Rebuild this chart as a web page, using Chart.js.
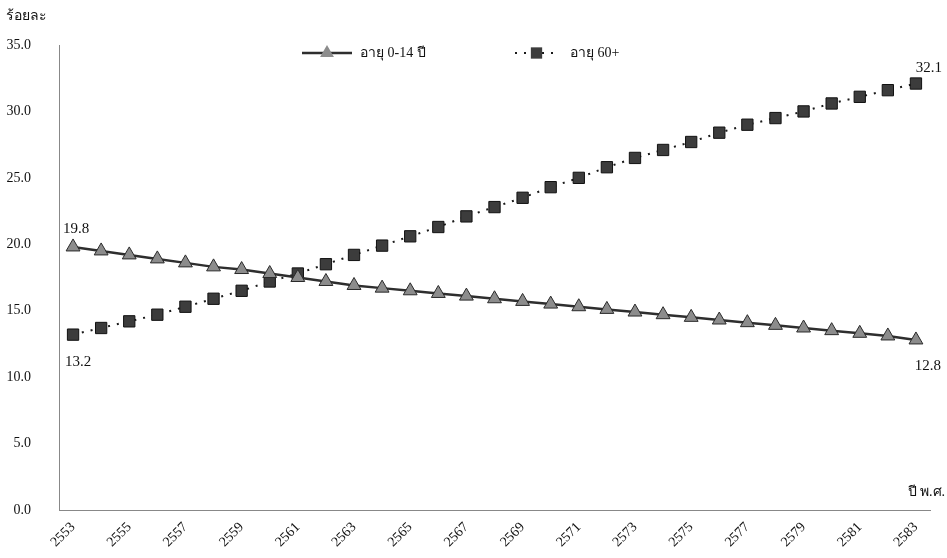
<!DOCTYPE html>
<html>
<head>
<meta charset="utf-8">
<script src="https://cdn.jsdelivr.net/npm/chart.js@4/dist/chart.umd.min.js"></script>
<style>
  html, body { margin: 0; padding: 0; background: #fff; }
  #wrap { width: 947px; height: 558px; }
</style>
</head>
<body>
<div id="wrap"><canvas id="chart"></canvas></div>
<script>
// data
const years = [2553, 2554, 2555, 2556, 2557, 2558, 2559, 2560, 2561, 2562,
  2563, 2564, 2565, 2566, 2567, 2568, 2569, 2570, 2571, 2572,
  2573, 2574, 2575, 2576, 2577, 2578, 2579, 2580, 2581, 2582, 2583];

const age0to14 = [19.8, 19.5, 19.2, 18.9, 18.6, 18.3, 18.1, 17.8, 17.5, 17.2,
  16.9, 16.7, 16.5, 16.3, 16.1, 15.9, 15.7, 15.5, 15.3, 15.1,
  14.9, 14.7, 14.5, 14.3, 14.1, 13.9, 13.7, 13.5, 13.3, 13.1, 12.8];

const age60plus = [13.2, 13.7, 14.2, 14.7, 15.3, 15.9, 16.5, 17.2, 17.8, 18.5,
  19.2, 19.9, 20.6, 21.3, 22.1, 22.8, 23.5, 24.3, 25.0, 25.8,
  26.5, 27.1, 27.7, 28.4, 29.0, 29.5, 30.0, 30.6, 31.1, 31.6, 32.1];

const seriesNames = ['อายุ 0-14 ปี', 'อายุ 60+'];
const yTitle = 'ร้อยละ';
const xTitle = 'ปี พ.ศ.';

const FONT = '"Liberation Serif", "Times New Roman", serif';

// legend, axis titles and end value labels
const extras = {
  id: 'extras',
  afterDatasetsDraw(chart) {
    const ctx = chart.ctx;
    const ds = chart.data.datasets;
    ctx.save();
    ctx.fillStyle = '#111';
    ctx.textBaseline = 'middle';

    ctx.font = '14px ' + FONT;
    ctx.textAlign = 'left';
    ctx.fillText(yTitle, 6, 16);
    ctx.textAlign = 'right';
    ctx.fillText(xTitle, 945, 492);

    // legend
    const items = [{ x0: 302, x1: 352, tx: 360 }, { x0: 515, x1: 558, tx: 570 }];
    const ly = 53;
    items.forEach((it, i) => {
      const d = ds[i];
      ctx.save();
      ctx.strokeStyle = d.borderColor;
      ctx.lineWidth = d.borderWidth;
      ctx.setLineDash(d.borderDash || []);
      ctx.beginPath();
      ctx.moveTo(it.x0, ly);
      ctx.lineTo(it.x1, ly);
      ctx.stroke();
      ctx.restore();
      ctx.save();
      ctx.fillStyle = d.pointBackgroundColor;
      ctx.strokeStyle = d.pointBorderColor;
      ctx.lineWidth = 1;
      Chart.helpers.drawPoint(ctx, { pointStyle: d.pointStyle, radius: d.pointRadius, rotation: 0 },
        (it.x0 + it.x1) / 2, ly);
      ctx.restore();
      ctx.font = '14px ' + FONT;
      ctx.textAlign = 'left';
      ctx.fillText(d.label, it.tx, ly);
    });

    // first / last value labels
    ctx.font = '15px ' + FONT;
    ctx.textAlign = 'center';
    const m0 = chart.getDatasetMeta(0).data;
    const m1 = chart.getDatasetMeta(1).data;
    const n = years.length - 1;
    ctx.fillText(age0to14[0].toFixed(1), m0[0].x + 3, m0[0].y - 18);
    ctx.fillText(age60plus[0].toFixed(1), m1[0].x + 5, m1[0].y + 27);
    ctx.fillText(age60plus[n].toFixed(1), m1[n].x + 13, m1[n].y - 15);
    ctx.fillText(age0to14[n].toFixed(1), m0[n].x + 12, m0[n].y + 26);
    ctx.restore();
  }
};

new Chart(document.getElementById('chart'), {
  type: 'line',
  data: {
    labels: years,
    datasets: [
      {
        label: seriesNames[0],
        data: age0to14,
        borderColor: '#2e2e2e',
        borderWidth: 2.5,
        pointStyle: 'triangle',
        pointRadius: 8,
        pointBackgroundColor: '#8c8c8c',
        pointBorderColor: '#2a2a2a',
        pointBorderWidth: 1,
        tension: 0
      },
      {
        label: seriesNames[1],
        data: age60plus,
        borderColor: '#1a1a1a',
        borderWidth: 2,
        borderDash: [2, 7],
        pointStyle: 'rect',
        pointRadius: 8,
        pointBackgroundColor: '#3c3c3c',
        pointBorderColor: '#111',
        pointBorderWidth: 1,
        tension: 0
      }
    ]
  },
  options: {
    responsive: true,
    maintainAspectRatio: false,
    animation: false,
    layout: { padding: { left: 0, right: 17, top: 45, bottom: 0 } },
    plugins: { legend: { display: false }, tooltip: { enabled: false } },
    scales: {
      x: {
        offset: true,
        grid: { display: false, drawTicks: false },
        border: { color: '#888', dash: [1, 2], width: 1 },
        ticks: {
          autoSkip: false,
          maxRotation: 45,
          minRotation: 45,
          padding: 9,
          color: '#111',
          font: { family: FONT, size: 14 },
          callback: function (v, i) { return i % 2 === 0 ? this.getLabelForValue(v) : ''; }
        },
        afterFit: s => { s.height = 48; }
      },
      y: {
        min: 0,
        max: 35,
        grid: { display: false, drawTicks: false },
        border: { color: '#888', dash: [1, 2], width: 1 },
        ticks: {
          stepSize: 5,
          padding: 28,
          color: '#111',
          font: { family: FONT, size: 14 },
          callback: v => v.toFixed(1)
        },
        afterFit: s => { s.width = 59; }
      }
    }
  },
  plugins: [extras]
});
</script>
</body>
</html>
